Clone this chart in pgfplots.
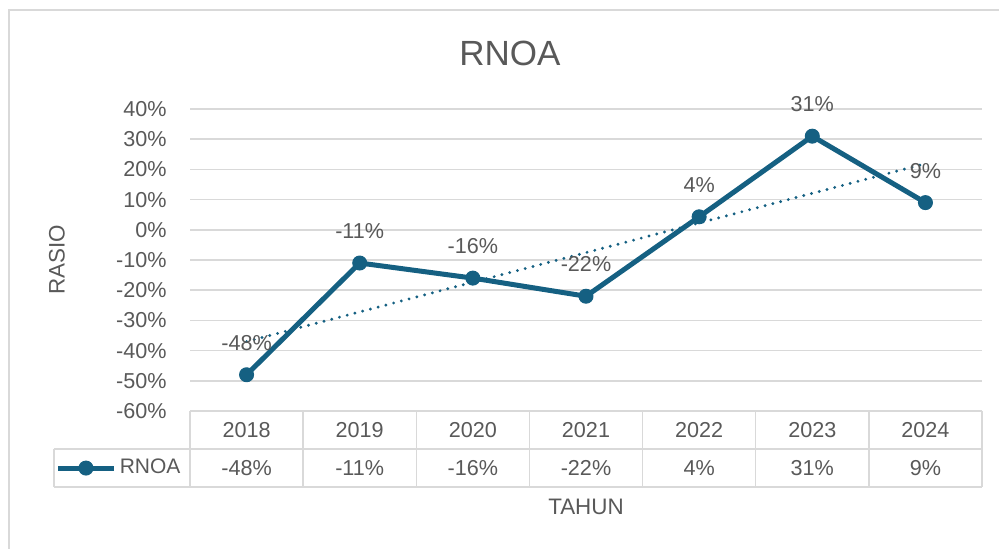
\documentclass[border=0pt]{standalone}
\usepackage{pgfplots}
\pgfplotsset{compat=1.18}
\usepackage{fontspec}
\setmainfont{Liberation Sans}
\definecolor{acc}{HTML}{156082}
\definecolor{txt}{HTML}{595959}
\definecolor{grd}{HTML}{D9D9D9}
\tikzset{tv/.style={font=\fontsize{10.8}{12}\selectfont, text=txt, inner sep=0pt}}
\begin{document}
\begin{tikzpicture}
\useasboundingbox (-95pt,-69pt) rectangle (404.5pt,205.5pt);
\draw[grd, line width=0.75pt] (-90.5pt,200.5pt) rectangle (430pt,-90pt);
\begin{axis}[
  scale only axis, width=396pt, height=151pt,
  xmin=-0.5, xmax=6.5, ymin=-60, ymax=40,
  ytick={-60,-50,...,40},
  xtick={0,1,2,3,4,5,6},
  xticklabels={2018,2019,2020,2021,2022,2023,2024},
  axis line style={draw=none},
  major tick style={draw=none},
  ymajorgrids, grid style={grd, line width=0.75pt},
  tick label style={font=\fontsize{10.8}{12}\selectfont, text=txt},
  /pgf/number format/assume math mode=true,
  yticklabel={\pgfmathprintnumber{\tick}\%},
  yticklabel style={anchor=east, inner sep=0pt, xshift=-11.5pt},
  xticklabel style={anchor=center, inner sep=0pt, yshift=-9.5pt},
  clip=false,
  ylabel={RASIO}, xlabel={TAHUN},
  label style={font=\fontsize{11.2}{13}\selectfont, text=txt},
  ylabel style={at={(axis description cs:-0.168,0.5)}, anchor=center},
  xlabel style={at={(axis description cs:0.5,-0.318)}, anchor=center},
  legend style={at={(axis description cs:-0.170,-0.189)}, anchor=west,
    draw=none, fill=none, inner sep=0pt, font=\fontsize{10.5}{12}\selectfont, text=txt,
    nodes={inner sep=0.3pt},
    /tikz/every odd column/.append style={column sep=1.5pt}},
  legend cell align=left,
  legend image code/.code={\draw[#1, mark repeat=2, mark phase=2] plot coordinates {(0pt,0pt) (13.85pt,0pt) (27.7pt,0pt)};},
]
% table lines
\pgfplotsinvokeforeach{-0.5,0.5,1.5,2.5,3.5,4.5,5.5,6.5}{
  \draw[grd, line width=0.75pt] (axis cs:#1,-60) -- ([yshift=-38pt]axis cs:#1,-60);
}
\draw[grd, line width=0.75pt] ([xshift=-68pt,yshift=-19pt]axis cs:-0.5,-60) -- ([yshift=-19pt]axis cs:6.5,-60);
\draw[grd, line width=0.75pt] ([xshift=-68pt,yshift=-38pt]axis cs:-0.5,-60) -- ([yshift=-38pt]axis cs:6.5,-60);
\draw[grd, line width=0.75pt] ([xshift=-68pt,yshift=-19pt]axis cs:-0.5,-60) -- ([xshift=-68pt,yshift=-38pt]axis cs:-0.5,-60);
% data line
\addplot[acc, line width=2.5pt, line join=round, mark=*, mark size=3.5pt,
  mark options={solid, fill=acc, line width=0.5pt}] coordinates
  {(0,-48) (1,-11) (2,-16) (3,-22) (4,4.3) (5,31) (6,9)};
\addlegendentry{RNOA}
% trend line
\addplot[acc, line width=1.6pt, line cap=round, dash pattern=on 0pt off 4pt, forget plot] coordinates {(0,-37.0) (6,21.9)};
% data labels
\addplot[draw=none, forget plot, point meta=explicit symbolic,
  nodes near coords,
  every node near coord/.append style={font=\fontsize{10.8}{12}\selectfont, text=txt, anchor=center, yshift=16pt}]
  coordinates {(0,-48) [-48\%] (1,-11) [-11\%] (2,-16) [-16\%] (3,-22) [-22\%] (4,4.3) [4\%] (5,31) [31\%] (6,9) [9\%]};
% table values
\node[tv] at ([yshift=-28.5pt]axis cs:0,-60) {-48\%};
\node[tv] at ([yshift=-28.5pt]axis cs:1,-60) {-11\%};
\node[tv] at ([yshift=-28.5pt]axis cs:2,-60) {-16\%};
\node[tv] at ([yshift=-28.5pt]axis cs:3,-60) {-22\%};
\node[tv] at ([yshift=-28.5pt]axis cs:4,-60) {4\%};
\node[tv] at ([yshift=-28.5pt]axis cs:5,-60) {31\%};
\node[tv] at ([yshift=-28.5pt]axis cs:6,-60) {9\%};
\node[font=\fontsize{17.5}{20}\selectfont, text=txt] at (axis description cs:0.404,1.185) {RNOA};
\end{axis}
\end{tikzpicture}
\end{document}
